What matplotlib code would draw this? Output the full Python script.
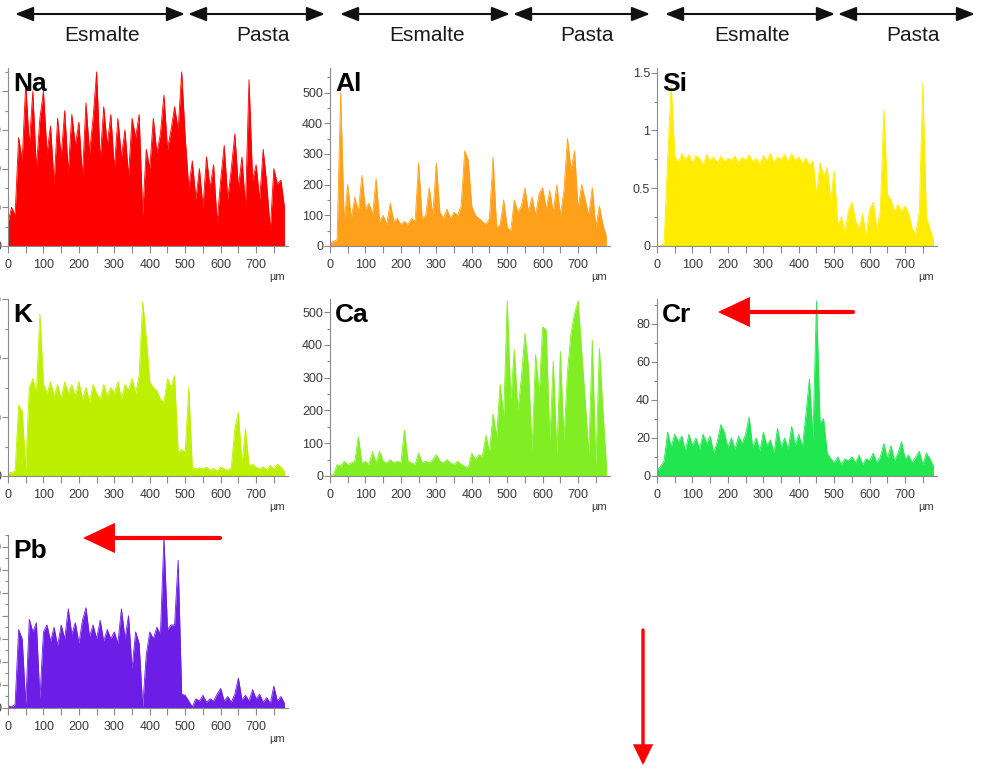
import matplotlib
matplotlib.use("Agg")
import matplotlib.pyplot as plt
from matplotlib.ticker import MultipleLocator, FormatStrFormatter, FuncFormatter
from matplotlib.patches import FancyArrowPatch

# ---------------- data ----------------
distance_um = list(range(0, 790, 10))  # sample positions along the line scan (µm)

na = [60, 100, 80, 280, 220, 420, 260, 400, 200, 330,
      400, 240, 310, 160, 330, 230, 350, 190, 340, 260,
      320, 180, 370, 240, 330, 450, 220, 360, 260, 340,
      200, 330, 230, 300, 180, 330, 280, 340, 80, 250,
      200, 330, 240, 290, 390, 250, 300, 360, 300, 450,
      280, 150, 220, 120, 200, 100, 230, 150, 210, 60,
      170, 260, 120, 200, 290, 150, 230, 100, 430, 170,
      210, 120, 250, 160, 40, 200, 160, 170, 100]

al = [10, 15, 20, 500, 80, 200, 90, 160, 110, 230,
      120, 140, 100, 220, 80, 100, 70, 140, 80, 90,
      70, 80, 70, 90, 80, 270, 90, 100, 190, 100,
      270, 110, 90, 120, 90, 110, 100, 130, 310, 280,
      130, 100, 90, 80, 70, 90, 290, 60, 70, 150,
      60, 50, 150, 110, 130, 190, 110, 160, 100, 170,
      190, 120, 180, 110, 200, 100, 180, 350, 250, 310,
      120, 200, 150, 100, 190, 60, 130, 70, 30]

si = [0, 0, 0.02, 0.75, 1.40, 0.78, 0.72, 0.80, 0.75, 0.79,
      0.72, 0.78, 0.76, 0.70, 0.79, 0.74, 0.77, 0.72, 0.78, 0.73,
      0.76, 0.74, 0.78, 0.72, 0.77, 0.74, 0.79, 0.73, 0.76, 0.71,
      0.78, 0.74, 0.80, 0.72, 0.77, 0.75, 0.79, 0.73, 0.80, 0.74,
      0.77, 0.72, 0.76, 0.70, 0.74, 0.45, 0.72, 0.60, 0.68, 0.40,
      0.65, 0.18, 0.25, 0.12, 0.30, 0.38, 0.22, 0.15, 0.28, 0.08,
      0.32, 0.38, 0.15, 0.30, 1.18, 0.45, 0.40, 0.30, 0.36, 0.30,
      0.35, 0.28, 0.15, 0.10, 0.30, 1.41, 0.25, 0.15, 0.05]

k = [5, 6, 8, 120, 110, 12, 150, 165, 140, 275,
     155, 140, 160, 135, 155, 130, 160, 140, 155, 135,
     160, 130, 150, 125, 155, 140, 130, 155, 135, 150,
     140, 160, 130, 155, 145, 165, 140, 170, 295, 235,
     160, 150, 145, 130, 125, 165, 150, 170, 40, 45,
     40, 150, 15, 12, 14, 12, 15, 10, 13, 8,
     15, 12, 10, 14, 80, 108, 20, 80, 18, 20,
     15, 12, 16, 10, 18, 12, 20, 15, 8]

ca = [3, 4, 35, 30, 45, 35, 40, 45, 120, 40,
      45, 35, 75, 40, 75, 45, 40, 50, 40, 45,
      40, 140, 45, 40, 35, 70, 40, 45, 40, 50,
      65, 45, 40, 50, 40, 35, 45, 35, 30, 25,
      70, 50, 65, 60, 125, 70, 190, 120, 280, 180,
      535, 230, 385, 200, 300, 435, 330, 75, 370, 250,
      455, 445, 105, 350, 65, 380, 105, 320, 435, 495,
      535, 380, 230, 65, 415, 30, 390, 200, 30]

cr = [3, 5, 8, 23, 15, 22, 18, 21, 13, 22,
      16, 20, 14, 22, 17, 21, 12, 18, 27, 23,
      15, 20, 14, 21, 17, 22, 31, 15, 20, 13,
      23, 16, 19, 12, 25, 15, 20, 14, 26, 16,
      22, 15, 32, 51, 20, 92, 28, 30, 12, 9,
      7, 10, 6, 9, 8, 10, 7, 11, 6, 9,
      8, 12, 7, 10, 17, 9, 16, 8, 12, 18,
      9, 11, 7, 10, 13, 6, 12, 9, 5]

pb = [10, 5, 15, 340, 300, 15, 385, 330, 370, 40,
      330, 360, 290, 350, 270, 360, 300, 430, 320, 370,
      280, 380, 435, 310, 360, 300, 380, 290, 340, 300,
      330, 280, 430, 300, 400, 170, 330, 280, 5, 230,
      330, 300, 350, 320, 740, 340, 360, 360, 640, 60,
      55, 30, 5, 40, 30, 55, 25, 40, 30, 60,
      85, 30, 50, 25, 60, 130, 35, 55, 30, 80,
      40, 60, 25, 45, 20, 95, 30, 50, 20]

elements = ["Na", "Al", "Si", "K", "Ca", "Cr", "Pb"]
series = [na, al, si, k, ca, cr, pb]
colors = ["#ff0000", "#ffa01a", "#ffec00", "#bdf000", "#80ee22", "#22e650", "#6c1ee6"]
y_max = [460, 580, 1.54, 300, 540, 93, 750]
y_step = [100, 100, 0.5, 100, 100, 20, 100]
zone_labels = ["Esmalte", "Pasta"]

# ---------------- layout ----------------
W, H = 990, 771
fig = plt.figure(figsize=(W / 100, H / 100), dpi=100)
FONT = "Liberation Sans"

col_left = [8, 330, 657]
col_w = 280
rows = [(68, 246), (299, 476), (535, 708)]
grid_pos = [(0, 0), (0, 1), (0, 2), (1, 0), (1, 1), (1, 2), (2, 0)]


def fx(px):
    return px / W


def fy(py):
    return 1 - py / H


spine_c = "#8a8a8a"
text_c = "#3a3a3a"

for name, vals, col, ymax, ystep, (r, c) in zip(elements, series, colors, y_max, y_step, grid_pos):
    top, bot = rows[r]
    left = col_left[c]
    ax = fig.add_axes([fx(left), fy(bot), fx(col_w), (bot - top) / H])
    ax.fill_between(distance_um, vals, 0, color=col, lw=0)
    ax.plot(distance_um, vals, color=col, lw=0.6)
    ax.set_xlim(0, 790)
    ax.set_ylim(0, ymax)
    for s in ["top", "right"]:
        ax.spines[s].set_visible(False)
    for s in ["left", "bottom"]:
        ax.spines[s].set_color(spine_c)
        ax.spines[s].set_linewidth(0.8)
    ax.xaxis.set_major_locator(MultipleLocator(100))
    ax.xaxis.set_minor_locator(MultipleLocator(50))
    ax.yaxis.set_major_locator(MultipleLocator(ystep))
    ax.yaxis.set_minor_locator(MultipleLocator(ystep / 2))
    ax.xaxis.set_major_formatter(FuncFormatter(lambda v, p: "%d" % v if v <= 700 else ""))
    ax.yaxis.set_major_formatter(FuncFormatter(lambda v, p: "%g" % v))
    ax.tick_params(axis="both", which="both", direction="out", color=spine_c,
                   labelcolor=text_c, labelsize=9, width=0.8)
    ax.tick_params(axis="x", which="both", length=5, pad=4)
    ax.tick_params(axis="y", which="major", length=4, pad=1)
    ax.tick_params(axis="y", which="minor", length=2)
    for lab in ax.get_xticklabels() + ax.get_yticklabels():
        lab.set_fontfamily(FONT)
    ax.annotate("µm", xy=(1, 0), xycoords="axes fraction", xytext=(-3, -31),
                textcoords="offset pixels", ha="right", va="center",
                fontsize=8, color=text_c, family=FONT)
    # panel title
    fig.text(fx(left + 5), fy(top + 23), name, fontsize=19, fontweight="bold",
             family=FONT, color="black", va="baseline", ha="left")

# ---------------- header arrows ----------------
arrow_spans = [((15, 185), (188, 325)), ((340, 510), (513, 650)), ((665, 835), (838, 975))]
for spans in arrow_spans:
    for (a, b), lab in zip(spans, zone_labels):
        arr = FancyArrowPatch((fx(a), fy(14)), (fx(b), fy(14)), transform=fig.transFigure,
                              arrowstyle="<|-|>,head_length=11,head_width=4.3",
                              mutation_scale=1, lw=1.5, color="#111111",
                              shrinkA=0, shrinkB=0)
        fig.add_artist(arr)
        fig.text(fx((a + b) / 2 + (2 if lab == "Esmalte" else 6)), fy(41), lab,
                 fontsize=15, family=FONT, color="#1a1a1a", ha="center", va="baseline")

# ---------------- red markers ----------------
red_arrows = [((853, 312), (718, 312), 3.0, 18, 8.5),
              ((220, 538), (83, 538), 3.0, 18, 8.5),
              ((643, 630), (643, 765), 2.4, 11, 5.4)]
for (x0, y0), (x1, y1), lw, hl, hw in red_arrows:
    arr = FancyArrowPatch((fx(x0), fy(y0)), (fx(x1), fy(y1)), transform=fig.transFigure,
                          arrowstyle="-|>,head_length=%g,head_width=%g" % (hl, hw),
                          mutation_scale=1, lw=lw, color="#ff0000",
                          shrinkA=0, shrinkB=0, joinstyle="miter")
    fig.add_artist(arr)

fig.savefig("out.png", dpi=100)
